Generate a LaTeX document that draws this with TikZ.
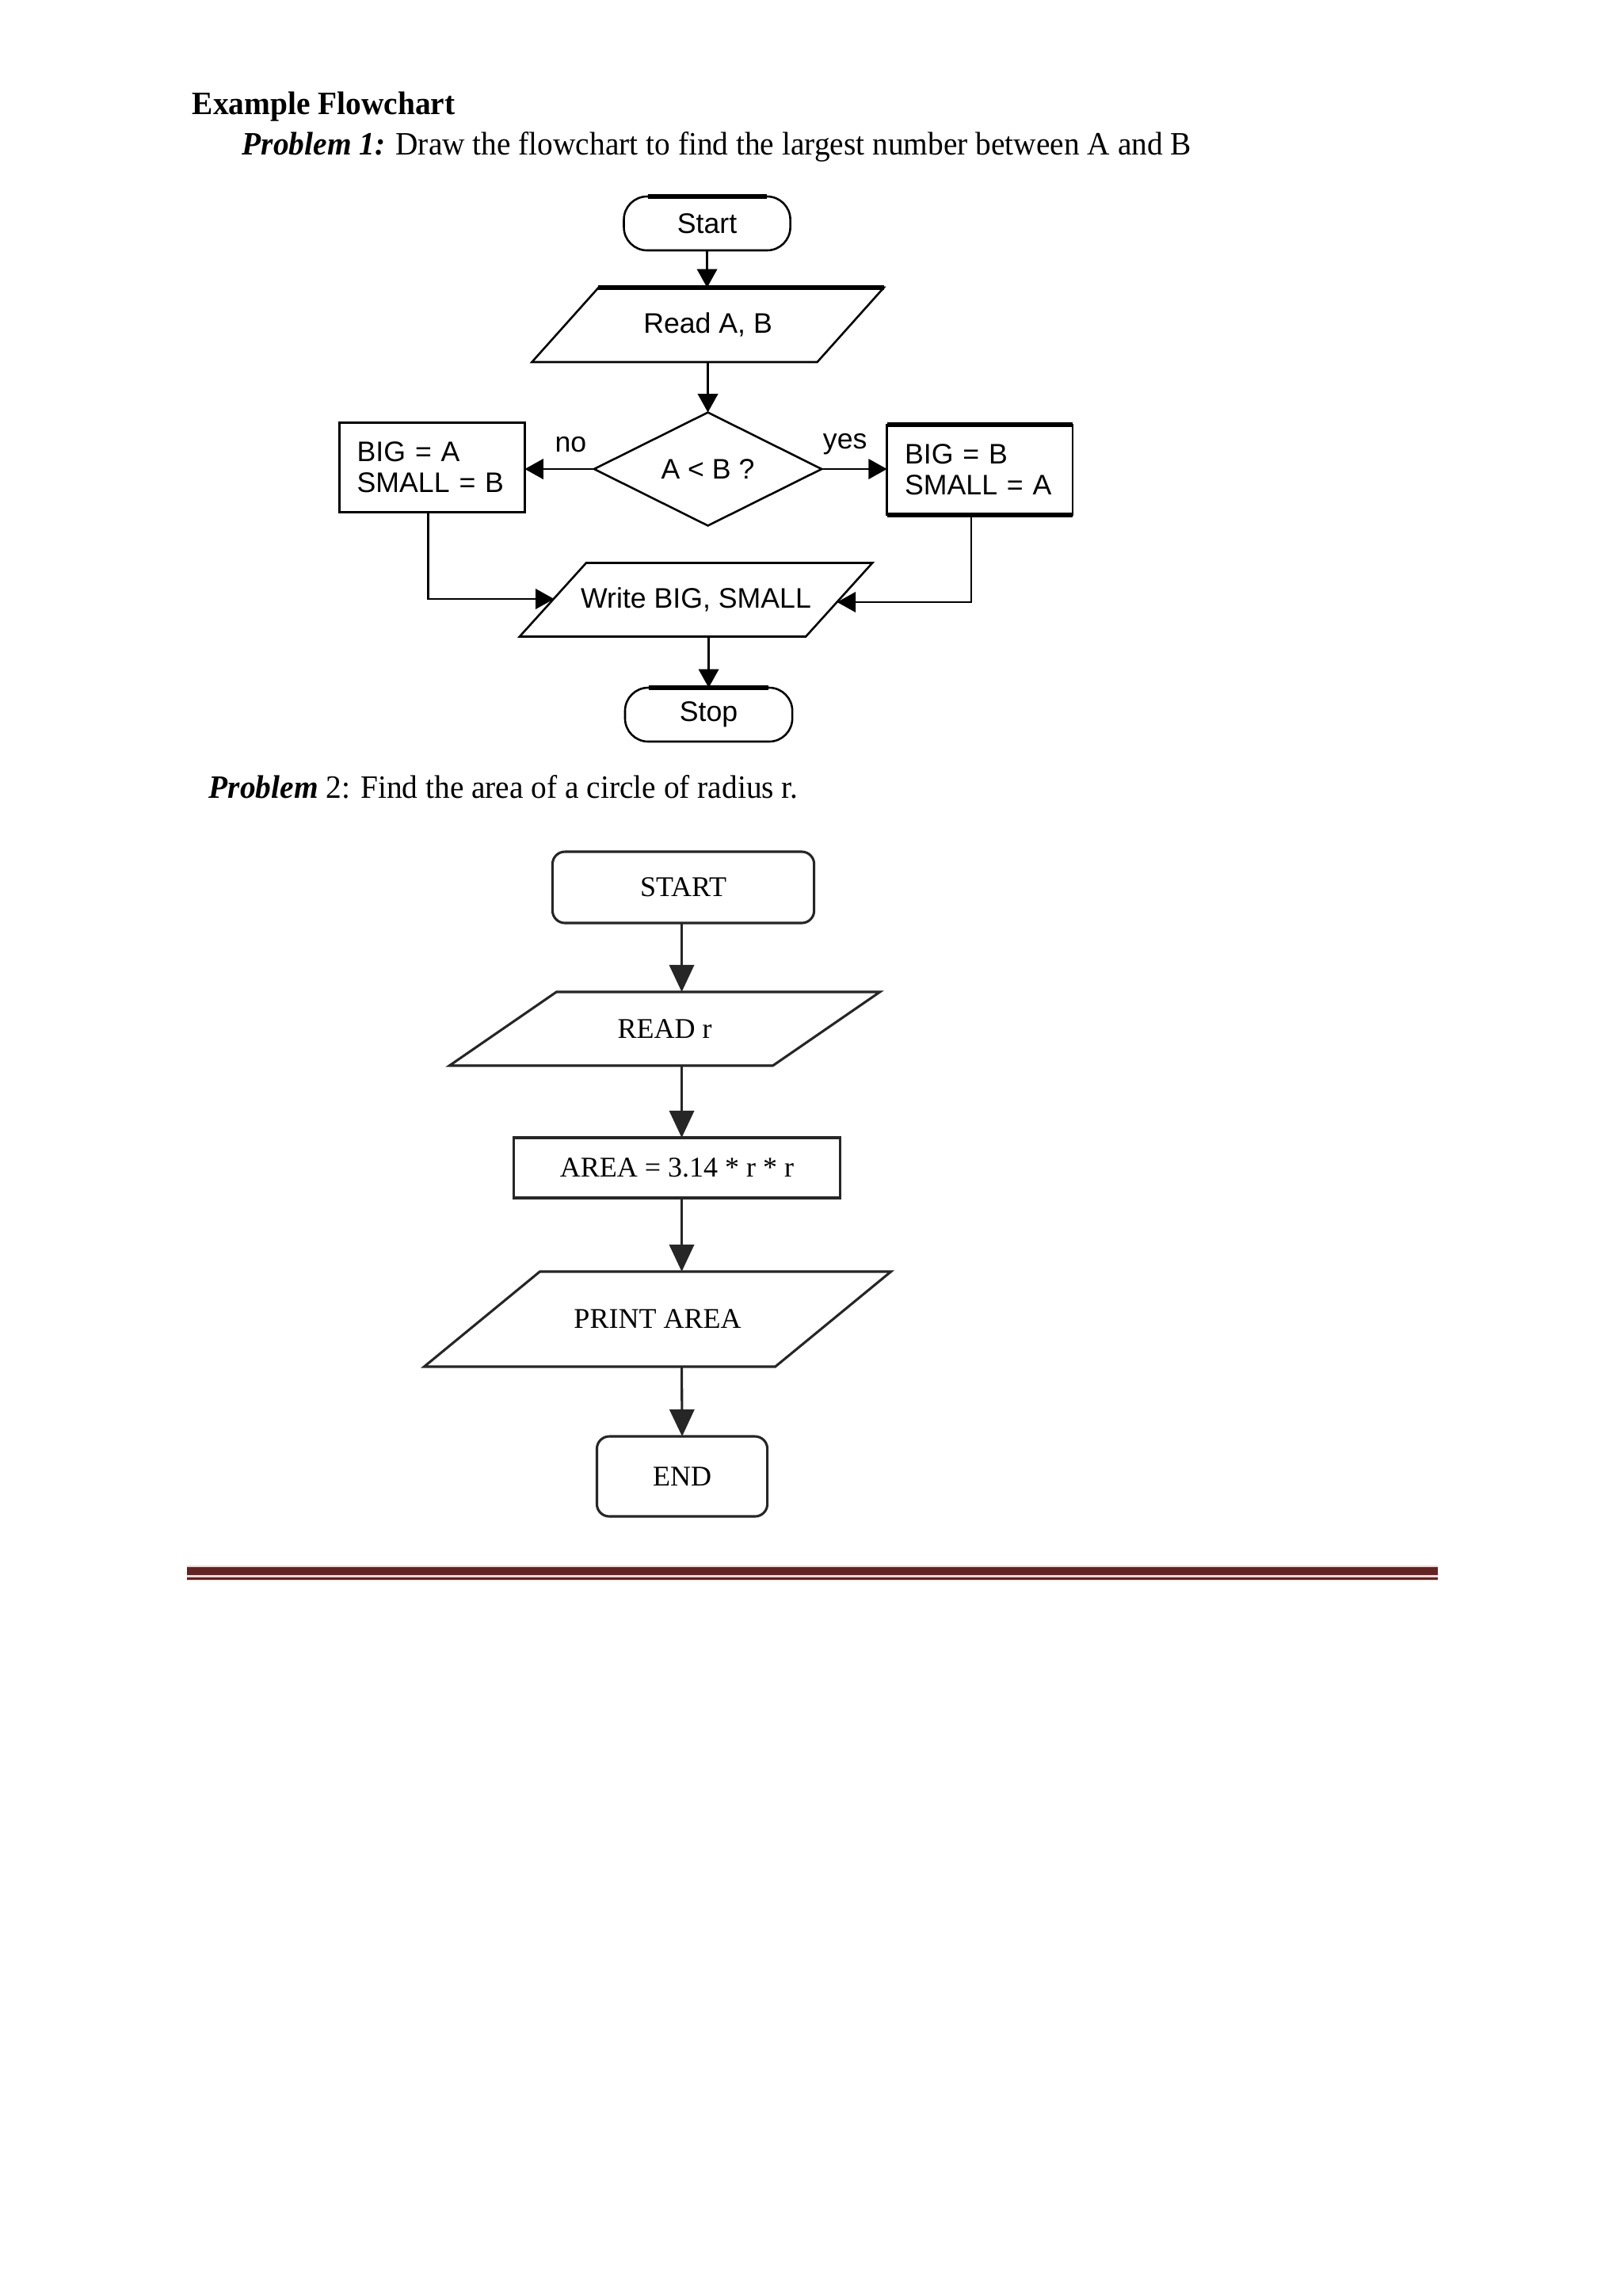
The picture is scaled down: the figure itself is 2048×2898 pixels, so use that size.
\documentclass[tikz,border=0pt]{standalone}
\usepackage{fontspec}
\setmainfont{Liberation Serif}
\newfontfamily\sansf{Liberation Sans}
\usetikzlibrary{arrows.meta,shapes.geometric,calc}
\definecolor{rulered}{HTML}{622423}
\definecolor{rulepink}{HTML}{EED6D6}
\begin{document}
\begin{tikzpicture}[x=0.1025390625mm, y=-0.1024844mm,
  lineA/.style={line width=0.75pt},
  thickA/.style={line width=1.5pt},
  lineB/.style={line width=0.9pt, draw=black!85},
  arrA/.style={-{Triangle[width=2.6mm,length=2.4mm]}, line width=0.75pt},
  arrB/.style={-{Triangle[width=3.2mm,length=3.5mm]}, line width=0.9pt, draw=black!85, fill=black},
  sanstext/.style={font=\sansf\fontsize{10.4}{11.4}\selectfont},
  sertext/.style={font=\fontsize{10.5}{12}\selectfont},
  heading/.style={anchor=base west, inner sep=0pt, font=\fontsize{12}{14}\selectfont},
  slot/.style={inner sep=0pt, outer sep=0pt},
  termA/.style={slot, draw, lineA, rounded corners=3mm, sanstext},
  boxA/.style={draw, lineA, sanstext, outer sep=0pt, inner ysep=0pt, inner xsep=2.3mm, text width=19.4mm, align=left, minimum width=23.99mm},
  termB/.style={slot, lineB, draw, sertext},
  boxB/.style={slot, lineB, draw, sertext}
]
\useasboundingbox (0,0) rectangle (2048,2898);
\fill[white] (0,0) rectangle (2048,2898);

% ---------- headings ----------
\node[heading, font=\fontsize{12}{14}\selectfont\bfseries] (title) at (242,144) {\scalebox{0.957}[1]{Example Flowchart}};
\node[heading] (prob1) at (305,195) {\scalebox{0.957}[1]{\textbf{\textit{Problem 1:}} Draw the flowchart to find the largest number between A and B}};

% ---------- Problem 1 ----------
\node[termA, minimum width=21.53mm, minimum height=6.97mm] (start) at (892,282) {Start};
\draw[thickA] ($(start.north west)+(30,0)$) -- ($(start.north east)+(-30,0)$);

\node[slot, sanstext, minimum width=36.91mm, minimum height=9.63mm] (read) at (893,410) {Read A, B};
\draw[lineA] ($(read.north west)+(42,0)$) -- ($(read.north east)+(42,0)$) -- ($(read.south east)+(-42,0)$) -- ($(read.south west)+(-42,0)$) -- cycle;
\draw[thickA] ($(read.north west)+(42,0)$) -- ($(read.north east)+(42,0)$);

\node[diamond, draw, lineA, slot, sanstext, minimum width=29.43mm, minimum height=14.35mm] (dia) at (893,592) {A < B ?};

\node[boxA, minimum height=11.58mm] (left) at (545,590) {BIG = A\\SMALL = B};
\node[boxA, minimum height=11.68mm] (right) at (1236,593) {BIG = B\\SMALL = A};
\draw[thickA] (right.north west) -- (right.north east);
\draw[thickA] (right.south west) -- (right.south east);

\node[sanstext, inner sep=0pt] (no) at (720,561) {no};
\node[sanstext, inner sep=0pt] (yes) at (1066,561) {yes};

\node[slot, sanstext, minimum width=37.02mm, minimum height=9.53mm] (write) at (878,757) {Write BIG, SMALL};
\draw[lineA] ($(write.north west)+(42,0)$) -- ($(write.north east)+(42,0)$) -- ($(write.south east)+(-42,0)$) -- ($(write.south west)+(-42,0)$) -- cycle;

\node[termA, minimum width=21.64mm, minimum height=6.97mm] (stop) at (894,902) {Stop};
\draw[thickA] ($(stop.north west)+(30,0)$) -- ($(stop.north east)+(-30,0)$);

\coordinate (wl) at (699,756);
\coordinate (wr) at (1056,760);

\draw[arrA] (start.south) -- (start.south |- read.north);
\draw[arrA] (read.south) -- (dia.north);
\draw[arrA] (dia.west) -- (dia.west -| left.east);
\draw[arrA] (dia.east) -- (dia.east -| right.west);
\draw[arrA] ([xshift=-0.5mm]left.south) |- (wl);
\draw[arrA] ([xshift=-1.1mm]right.south) |- (wr);
\draw[arrA] (stop.north |- write.south) -- (stop.north);

% ---------- Problem 2 ----------
\node[heading] (prob2) at (263,1007) {\scalebox{0.957}[1]{\textbf{\textit{Problem}} 2: Find the area of a circle of radius r.}};

\node[termB, rounded corners=1.6mm, minimum width=33.84mm, minimum height=9.22mm] (START) at (862,1120) {START};

\node[slot, sertext, minimum width=41.84mm, minimum height=9.53mm] (READ) at (838.5,1298.5) {READ r};
\draw[lineB] ($(READ.north west)+(67.5,0)$) -- ($(READ.north east)+(67.5,0)$) -- ($(READ.south east)+(-67.5,0)$) -- ($(READ.south west)+(-67.5,0)$) -- cycle;

\node[boxB, minimum width=42.25mm, minimum height=7.79mm] (AREA) at (854,1474) {AREA = 3.14 * r * r};

\node[slot, sertext, minimum width=45.42mm, minimum height=12.3mm] (PRINT) at (829.5,1665) {PRINT AREA};
\draw[lineB] ($(PRINT.north west)+(73,0)$) -- ($(PRINT.north east)+(73,0)$) -- ($(PRINT.south east)+(-73,0)$) -- ($(PRINT.south west)+(-73,0)$) -- cycle;

\node[termB, rounded corners=1.6mm, minimum width=22.05mm, minimum height=10.35mm] (END) at (860.5,1863.5) {END};

\coordinate (axis) at (860,0);
\draw[arrB] (axis |- START.south) -- (axis |- READ.north);
\draw[arrB] (axis |- READ.south) -- (axis |- AREA.north);
\draw[arrB] (axis |- AREA.south) -- (axis |- PRINT.north);
\draw[arrB] (axis |- PRINT.south) -- (END.north);

% ---------- footer rule ----------
\fill[rulepink] (236,1976) rectangle (1814,1995);
\fill[rulered] (236,1978) rectangle (1814,1988);
\fill[rulered] (236,1991) rectangle (1814,1993.5);
\end{tikzpicture}
\end{document}
